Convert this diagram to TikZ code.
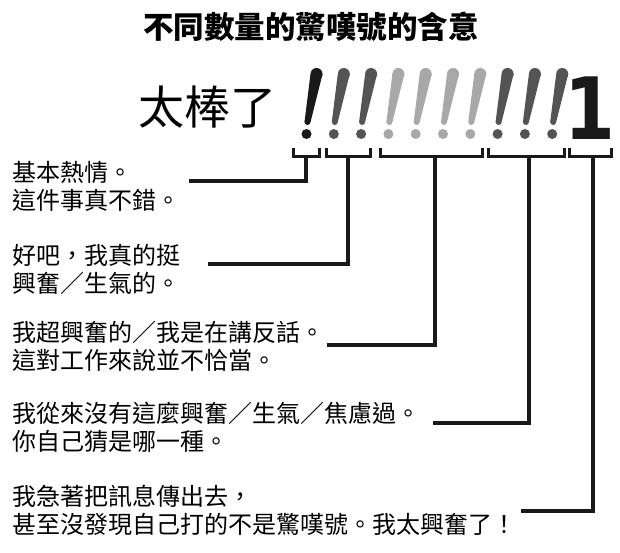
\documentclass[tikz,border=0pt]{standalone}
\usepackage{fontspec}
\setmainfont{Noto Sans CJK TC}
\newfontfamily\digitfont{DejaVu Sans}

\begin{document}
\begin{tikzpicture}[x=1pt,y=-1pt]
		\tikzset{
			note/.style={anchor=west,align=left,inner sep=0pt,font=\fontsize{24}{28}\selectfont},
			link/.style={line width=4pt,black!90},
			bracketline/.style={line width=3pt,black!90},
		}
		\useasboundingbox (0,0) rectangle (620,553);
		\node[font=\fontsize{30.5}{36}\selectfont\bfseries] (title) at (311,27) {不同數量的驚嘆號的含意};
		\node[font=\fontsize{46}{50}\selectfont] (wow) at (207,107) {太棒了};
		% the marks
		\foreach \x/\c in {306.5/black!90,333.8/black!67,361.1/black!67,388.4/black!34,415.7/black!34,
			443/black!34,470.3/black!34,497.6/black!67,524.9/black!67,552.2/black!67} {
			\fill[\c] (\x+10,74) circle (6pt);
			\fill[\c] (\x+1,122) circle (3pt);
			\fill[\c] (\x+4,74) -- (\x+16,74) -- (\x+4,122) -- (\x-2,122) -- cycle;
			\fill[\c] (\x,134) circle (5pt);
		}
		\node[font=\digitfont\bfseries\fontsize{86}{90}\selectfont,black!90,inner sep=0pt,xscale=.85,transform shape] (one) at (590,108.5) {1};
		% brackets
		\foreach \l/\m/\r [count=\i] in {293/305.5/319,326/348/370,380/434.5/482,488/529/564,569/592.5/611} {
			\draw[bracketline] (\l,148) |- (\r,157) -- (\r,148);
			\coordinate (b\i) at (\m,157);
		}
		% meanings
		\node[note] (t1) at (12,186) {基本熱情。\\這件事真不錯。};
		\node[note] (t2) at (12,269.5) {好吧，我真的挺\\興奮／生氣的。};
		\node[note] (t3) at (12,346) {我超興奮的／我是在講反話。\\這對工作來說並不恰當。};
		\node[note] (t4) at (12,427) {我從來沒有這麼興奮／生氣／焦慮過。\\你自己猜是哪一種。};
		\node[note] (t5) at (12,510) {我急著把訊息傳出去，\\甚至沒發現自己打的不是驚嘆號。我太興奮了！};
		\draw[link] ([xshift=9pt,yshift=5pt]t1.east) -| (b1);
		\draw[link] ([xshift=28pt,yshift=5.5pt]t2.east) -| (b2);
		\draw[link] ([xshift=3pt,yshift=1pt]t3.east) -| (b3);
		\draw[link] ([xshift=13pt,yshift=4pt]t4.east) -| (b4);
		\draw[link] ([xshift=5pt,yshift=-1pt]t5.east) -| (b5);
	\end{tikzpicture}
\end{document}
